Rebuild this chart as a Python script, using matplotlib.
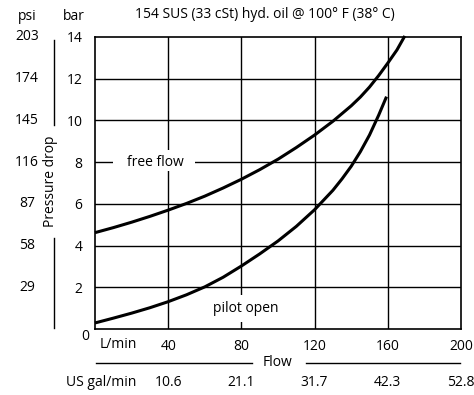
import matplotlib
matplotlib.use("Agg")
import matplotlib.pyplot as plt
from matplotlib.patches import Rectangle
from matplotlib.transforms import blended_transform_factory

plt.rcParams['font.family'] = ['Open Sans', 'DejaVu Sans']

# Data (flow L/min, pressure drop bar)
free_flow_x = [0, 10, 20, 30, 40, 50, 60, 70, 80, 90, 100, 110, 120, 130, 140, 145, 150, 155, 160, 165, 169.3]
free_flow_y = [4.62, 4.86, 5.12, 5.40, 5.70, 6.02, 6.37, 6.76, 7.18, 7.64, 8.14, 8.70, 9.30, 9.96, 10.70, 11.12, 11.60, 12.15, 12.75, 13.38, 14.05]
pilot_x = [0, 10, 20, 30, 40, 50, 60, 70, 80, 90, 100, 110, 120, 130, 135, 140, 145, 150, 155, 159.3]
pilot_y = [0.29, 0.52, 0.76, 1.02, 1.31, 1.64, 2.02, 2.48, 3.02, 3.60, 4.22, 4.92, 5.72, 6.65, 7.20, 7.80, 8.50, 9.30, 10.25, 11.14]

bar_ticks = [2, 4, 6, 8, 10, 12, 14]
psi_labels = ["29", "58", "87", "116", "145", "174", "203"]
flow_ticks = [40, 80, 120, 160, 200]
gpm_labels = ["10.6", "21.1", "31.7", "42.3", "52.8"]

W, H = 474, 395
fig = plt.figure(figsize=(W / 100, H / 100), dpi=100)
ax = fig.add_axes([95 / W, (H - 329) / H, 366 / W, 292 / H])
ax.set_xlim(0, 200)
ax.set_ylim(0, 14)

fs = 10
for v in flow_ticks[:-1]:
    ax.axvline(v, color='black', lw=1.0, zorder=1)
for v in bar_ticks[:-1]:
    ax.axhline(v, color='black', lw=1.0, zorder=1)
for s in ax.spines.values():
    s.set_linewidth(1.2)

ax.plot(free_flow_x, free_flow_y, color='black', lw=2.2, zorder=3, clip_on=False,
        solid_capstyle='butt', solid_joinstyle='round')
ax.plot(pilot_x, pilot_y, color='black', lw=2.2, zorder=3, clip_on=False,
        solid_capstyle='butt', solid_joinstyle='round')

# label backgrounds (break grid lines)
ax.add_patch(Rectangle((9.9, 7.57), 44.9, 1.01, facecolor='white', edgecolor='none', zorder=2))
ax.add_patch(Rectangle((60, 0.34), 44, 1.29, facecolor='white', edgecolor='none', zorder=2))
ax.text(33.2, 8.0, "free flow", ha='center', va='center', fontsize=fs, zorder=2.5)
ax.text(82.2, 0.96, "pilot open", ha='center', va='center', fontsize=fs, zorder=2.5)

ax.set_yticks(bar_ticks)
ax.set_yticklabels([str(v) for v in bar_ticks], fontsize=fs)
ax.tick_params(axis='y', length=0, pad=9)
ax.set_xticks(flow_ticks)
ax.set_xticklabels([str(v) for v in flow_ticks], fontsize=fs)
ax.tick_params(axis='x', length=0, pad=7.5)

fx = lambda px: px / W
fy = lambda py: 1 - py / H

# psi labels
tr = blended_transform_factory(fig.transFigure, ax.transData)
for v, lab in zip(bar_ticks, psi_labels):
    ax.text(fx(27), v, lab, transform=tr, ha='center', va='center', fontsize=fs)

fig.text(fx(27), fy(16), "psi", ha='center', va='center', fontsize=fs)
fig.text(fx(74), fy(16), "bar", ha='center', va='center', fontsize=fs)
fig.text(fx(265), fy(15), "154 SUS (33 cSt) hyd. oil @ 100° F (38° C)", ha='center', va='center', fontsize=fs)
fig.text(fx(85), fy(337), "0", ha='center', va='center', fontsize=fs)
fig.text(fx(118), fy(345), "L/min", ha='center', va='center', fontsize=fs)

# Pressure drop label with lines
fig.text(fx(51), fy(181), "Pressure drop", rotation=90, ha='center', va='center', fontsize=fs)
fig.add_artist(plt.Line2D([fx(54), fx(54)], [fy(40), fy(125)], color='black', lw=1.0))
fig.add_artist(plt.Line2D([fx(54), fx(54)], [fy(238), fy(328)], color='black', lw=1.0))

# Flow label with lines
fig.text(fx(278), fy(363), "Flow", ha='center', va='center', fontsize=fs)
fig.add_artist(plt.Line2D([fx(96), fx(252)], [fy(363), fy(363)], color='black', lw=1.0))
fig.add_artist(plt.Line2D([fx(306), fx(460)], [fy(363), fy(363)], color='black', lw=1.0))

# US gal/min labels
fig.text(fx(101.5), fy(383), "US gal/min", ha='center', va='center', fontsize=fs)
trx = blended_transform_factory(ax.transData, fig.transFigure)
for v, lab in zip(flow_ticks, gpm_labels):
    ax.text(v, fy(383), lab, transform=trx, ha='center', va='center', fontsize=fs)

fig.savefig("out.png", dpi=100)
